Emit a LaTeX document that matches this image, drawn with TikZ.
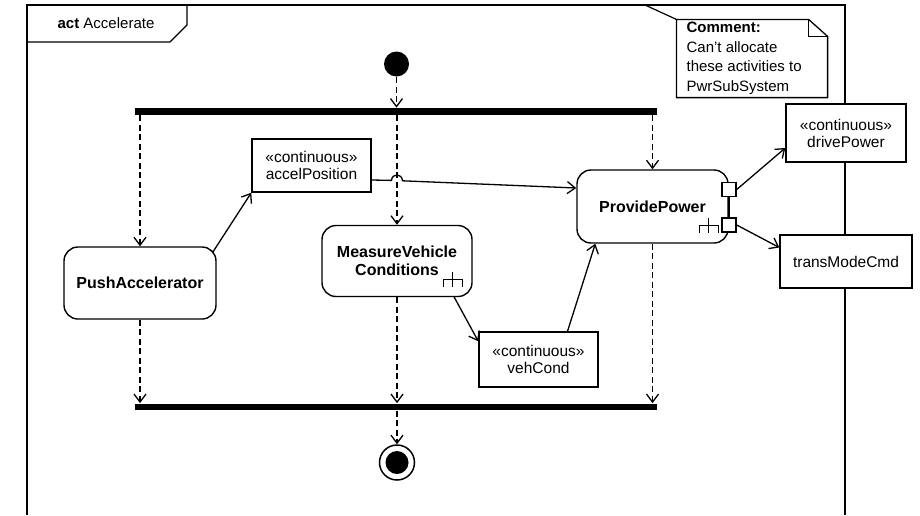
\documentclass[tikz,border=0pt]{standalone}
\usepackage{fontspec}
\setmainfont{Liberation Sans}
\usetikzlibrary{arrows.meta,calc}
\begin{document}
\begin{tikzpicture}[x=1pt,y=-1pt,
  line width=1.2pt,
  txt/.style={font=\fontsize{15}{17}\selectfont},
  action/.style={draw, line width=1.4pt, rounded corners=14pt, fill=white, align=center, inner sep=0pt, font=\fontsize{16}{18}\selectfont\bfseries},
  obj/.style={draw, line width=1.4pt, fill=white, align=center, inner sep=0pt, font=\fontsize{15.5}{17}\selectfont},
  pinbox/.style={draw, line width=1.4pt, fill=white, minimum size=14pt, inner sep=0pt},
  bar/.style={fill=black, minimum height=6.5pt, inner sep=0pt},
  flow/.style={-{Straight Barb[length=8pt,width=12pt]}, line width=1.3pt},
  ctrl/.style={flow, dash pattern=on 6pt off 3.5pt},
  rake/.pic={\draw[line width=1.2pt] (0,-7) -- (0,8) (-9.5,8) -- (-9.5,0) -- (9.5,0) -- (9.5,8);}
]
\useasboundingbox (0,0) rectangle (920,515);
\fill[white] (0,0) rectangle (920,515);

% frame
\draw[line width=1.6pt] (27,515) -- (27,5) -- (845,5) -- (845,515);
\draw[line width=1.3pt] (27,42) -- (170,42) -- (187,25) -- (187,5);
\node[txt] (title) at (106,23) {\textbf{act} Accelerate};

% comment note
\node[minimum width=150pt, minimum height=77pt, inner sep=0pt] (note) at (752,58.5) {};
\draw[line width=1.3pt, fill=white] (note.north west) -- ($(note.north east)+(-19,0)$) -- ($(note.north east)+(0,17)$) -- (note.south east) -- (note.south west) -- cycle;
\draw[line width=1.1pt] ($(note.north east)+(-19,0)$) -- ($(note.north east)+(-19,17)$) -- ($(note.north east)+(0,17)$);
\coordinate (anchorpt) at (645,5);
\draw[line width=1.2pt] (anchorpt) -- (note.north west);
\node[anchor=north west, align=left, inner sep=0pt, font=\fontsize{15}{19.5}\selectfont] (notetext) at (686,21.5)
  {\textbf{Comment:}\\Can't allocate\\these activities to\\PwrSubSystem};

% initial, bars, final
\fill (396.5,64) circle (12.5);
\node[circle, minimum size=25pt, inner sep=0pt] (init) at (396.5,64) {};
\node[bar, minimum width=522pt] (fork) at (396,111.5) {};
\node[bar, minimum width=522pt] (join) at (396,407) {};
\node[circle, draw, line width=1.5pt, minimum size=35pt, inner sep=0pt] (final) at (397,462.5) {};
\fill (final.center) circle (11.5);

% actions
\node[action, minimum width=152pt, minimum height=72pt] (PushAcc) at (140,283) {PushAccelerator};
\node[action, minimum width=150pt, minimum height=71pt] (MVC) at (397,261) {MeasureVehicle\\Conditions};
\node[action, minimum width=151pt, minimum height=73pt] (PP) at (652.5,206.5) {ProvidePower};
\pic at ($(MVC.south east)+(-20,-18)$) {rake};
\pic at ($(PP.south east)+(-20,-18.5)$) {rake};

% pins
\node[pinbox] (pin1) at (729,189.5) {};
\node[pinbox] (pin2) at (729,225) {};
\draw[line width=1.3pt] (pin1.south) -- (pin2.north);

% objects
\node[obj, minimum width=119pt, minimum height=53pt] (accelPos) at (311.5,165.5) {«continuous»\\accelPosition};
\node[obj, minimum width=119pt, minimum height=55pt] (vehCond) at (538.5,359.5) {«continuous»\\vehCond};
\node[obj, minimum width=120pt, minimum height=58pt] (drivePower) at (846,133) {«continuous»\\drivePower};
\node[obj, minimum width=132pt, minimum height=53pt] (transMode) at (846,261.5) {transModeCmd};

% control flows
\draw[ctrl] (init.south) -- (init.south |- fork.north);
\draw[ctrl] (fork.south -| PushAcc.north) -- (PushAcc.north);
\draw[ctrl] (fork.south -| MVC.north) -- (MVC.north);
\draw[ctrl] (fork.south -| PP.north) -- (PP.north);
\draw[ctrl] (PushAcc.south) -- (PushAcc.south |- join.north);
\draw[ctrl] (MVC.south) -- (MVC.south |- join.north);
\draw[ctrl] (PP.south) -- (PP.south |- join.north);
\draw[ctrl] (join.south -| final.north) -- (final.north);

% object flows
\draw[flow] ($(PushAcc.north east)+(-4,6)$) -- (accelPos.south west);
\coordinate (hopL) at (391.5,180.4);
\coordinate (hopR) at (402.5,180.8);
\draw[flow] ($(accelPos.east)+(0,14.5)$) -- (hopL) .. controls (392,173) and (402,173) .. (hopR) -- ($(PP.west)+(0,-18.5)$);
\draw[flow] ($(MVC.south east)+(-19,-1)$) -- ($(vehCond.north west)+(0,10)$);
\draw[flow] ($(vehCond.north)+(29,0)$) -- ($(PP.south west)+(19,0)$);
\draw[flow] (pin1.east) -- ($(drivePower.west)+(0,15)$);
\draw[flow] (pin2.east) -- ($(transMode.west)+(0,-14)$);
\end{tikzpicture}
\end{document}
